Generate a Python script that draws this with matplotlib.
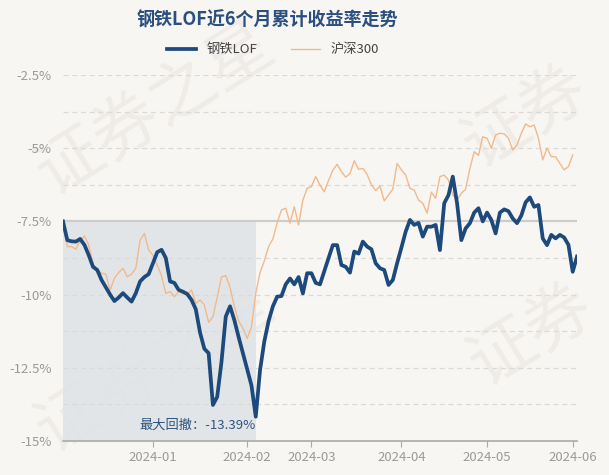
import numpy as np
import matplotlib.pyplot as plt
from matplotlib.lines import Line2D

plt.rcParams['font.family'] = ['Noto Sans CJK SC', 'DejaVu Sans']

# monthly tick labels and the index of the first trading day in each month
tick_labels = ['2024-01', '2024-02', '2024-03', '2024-04', '2024-05', '2024-06']
tick_index = [21, 43, 58, 79, 99, 119]

# 钢铁LOF cumulative return, %
lof = [-7.50, -8.14, -8.18, -8.19, -8.10, -8.30, -8.65, -9.05, -9.16, -9.50,
       -9.75, -10.00, -10.22, -10.10, -9.95, -10.10, -10.24, -9.95, -9.55, -9.40,
       -9.30, -8.93, -8.55, -8.47, -8.75, -9.55, -9.60, -9.84, -9.90, -9.98,
       -10.18, -10.50, -11.30, -11.85, -12.00, -13.77, -13.49, -12.30, -10.75, -10.40,
       -10.87, -11.45, -12.00, -12.55, -13.10, -14.17, -12.58, -11.60, -10.90, -10.40,
       -10.07, -10.05, -9.65, -9.45, -9.65, -9.40, -9.96, -9.27, -9.27, -9.60,
       -9.65, -9.20, -8.75, -8.31, -8.31, -8.99, -9.05, -9.25, -8.53, -8.60,
       -8.19, -8.36, -8.45, -8.93, -9.10, -9.16, -9.67, -9.50, -8.93, -8.40,
       -7.85, -7.45, -7.62, -7.55, -8.02, -7.68, -7.68, -7.62, -8.48, -6.88,
       -6.60, -5.97, -6.88, -8.14, -7.74, -7.56, -7.20, -7.05, -7.50, -7.20,
       -7.45, -7.91, -7.20, -7.09, -7.15, -7.40, -7.56, -7.30, -6.85, -6.68,
       -7.00, -6.94, -8.08, -8.31, -7.96, -8.08, -7.96, -8.05, -8.30, -9.22,
       -8.70]

# 沪深300 cumulative return, %
hs300 = [-7.50, -8.36, -8.36, -8.45, -8.15, -8.00, -8.30, -8.95, -9.16, -9.27,
         -9.30, -9.84, -9.44, -9.25, -9.10, -9.39, -9.30, -9.10, -8.14, -7.91,
         -8.48, -8.65, -9.00, -9.35, -9.96, -9.90, -10.07, -9.90, -9.98, -10.00,
         -9.84, -10.30, -10.18, -10.35, -10.95, -10.75, -10.10, -9.40, -9.35, -9.75,
         -10.40, -10.90, -11.15, -11.50, -11.10, -9.95, -9.25, -8.85, -8.36, -8.10,
         -7.55, -7.11, -7.05, -7.56, -7.00, -7.62, -6.77, -6.37, -6.31, -5.97,
         -6.26, -6.49, -6.10, -5.75, -5.55, -5.80, -5.99, -5.86, -5.43, -5.72,
         -5.69, -5.90, -6.25, -6.45, -6.29, -6.80, -6.60, -6.40, -5.52, -5.74,
         -5.92, -6.37, -6.43, -6.77, -6.88, -7.22, -6.50, -6.71, -5.97, -5.92,
         -6.09, -6.60, -6.77, -6.54, -6.40, -5.69, -5.12, -5.25, -4.61, -4.66,
         -5.00, -4.55, -4.49, -4.51, -4.66, -5.06, -4.89, -4.49, -4.17, -4.27,
         -4.21, -4.66, -5.40, -5.00, -5.29, -5.29, -5.52, -5.74, -5.63, -5.23]

yticks = [-2.5, -5, -7.5, -10, -12.5, -15]
ytick_labels = ['-2.5%', '-5%', '-7.5%', '-10%', '-12.5%', '-15%']

blue = '#1d4a7c'
orange = '#f2b98a'
bg = '#f8f6f3'
grey_txt = '#9a9a9a'

fig = plt.figure(figsize=(6.09, 4.75), dpi=100, facecolor=bg)
ax = fig.add_axes([63 / 609, 34 / 475, 514 / 609, 366 / 475])
ax.set_facecolor('none')

# watermark, drawn beneath the axes
for (wx, wy, s) in [(0.04, 0.56, '证券之星'), (0.74, 0.62, '证券'),
                    (0.04, 0.02, '证券之星'), (0.75, 0.16, '证券')]:
    fig.text(wx, wy, s, fontsize=48, color='#efece8', rotation=32,
             ha='left', va='bottom', zorder=-1)

x_lof = np.arange(len(lof))
x_hs = np.arange(len(hs300))

# drawdown shading, start to trough
trough = int(np.argmin(lof))
peak = max(lof[:trough + 1])
ax.fill_between(x_lof[:trough + 1], -15, peak, color='#dfe3e7', alpha=0.85, zorder=1, lw=0)

# grid
for g in np.arange(-13.75, -2.4, 1.25):
    if abs(g + 7.5) < 1e-6:
        ax.axhline(g, color='#cfcdca', lw=1.6, zorder=2)
    else:
        ax.axhline(g, color='#dcdad6', lw=0.9, ls=(0, (4, 3)), zorder=2)

ax.plot(x_hs, hs300, color=orange, lw=1.0, zorder=3)
ax.plot(x_lof, lof, color=blue, lw=2.7, zorder=4, solid_joinstyle='round')

ax.text(trough, -14.45, '最大回撤：%.2f%%' % -13.39, color='#2f5380', fontsize=9.5,
        ha='right', va='center', zorder=5)

ax.set_xlim(0, len(lof) - 1)
ax.set_ylim(-15, -2.5)
ax.set_yticks(yticks)
ax.set_yticklabels(ytick_labels)
ax.set_xticks(tick_index)
ax.set_xticklabels(tick_labels)
ax.tick_params(axis='y', length=0, labelsize=9.5, colors=grey_txt, pad=8)
ax.tick_params(axis='x', length=4, color='#aaaaaa', labelsize=9.5, labelcolor=grey_txt, pad=3)
for side in ['top', 'right', 'left']:
    ax.spines[side].set_visible(False)
ax.spines['bottom'].set_color('#aaaaaa')
ax.spines['bottom'].set_linewidth(1.2)

fig.text(267 / 609, 1 - 20 / 475, '钢铁LOF近6个月累计收益率走势', ha='center', va='center',
         fontsize=13, fontweight='bold', color='#2b4f7e')

handles = [Line2D([], [], color=blue, lw=2.7), Line2D([], [], color=orange, lw=1.0)]
fig.legend(handles, ['钢铁LOF', '沪深300'], loc='center', bbox_to_anchor=(273 / 609, 1 - 50 / 475),
           ncol=2, frameon=False, fontsize=9.5, handlelength=2.2, columnspacing=2.5,
           labelcolor='#444444')

fig.savefig('out.png', dpi=100, facecolor=bg)
